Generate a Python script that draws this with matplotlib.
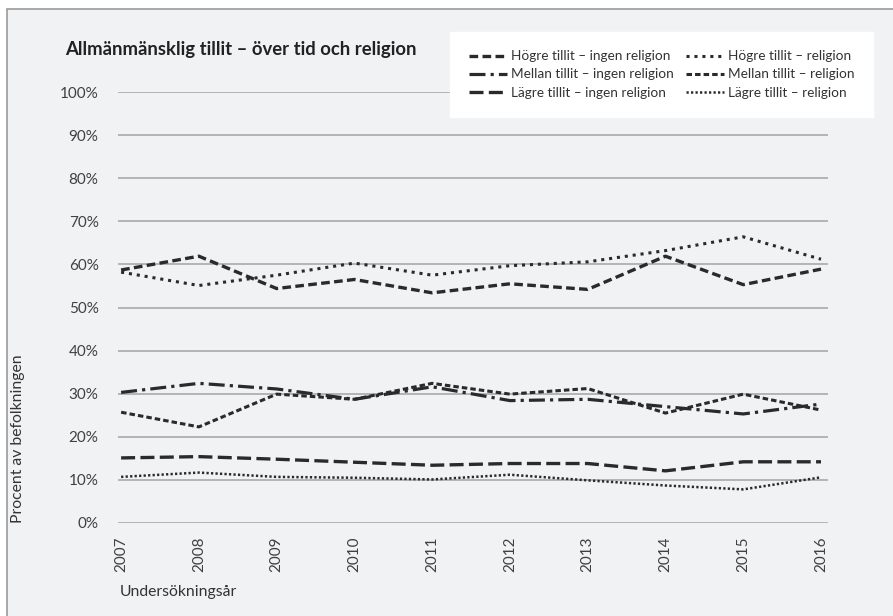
import matplotlib.pyplot as plt
from matplotlib.patches import Rectangle
from matplotlib.ticker import PercentFormatter

# Data (percent of population)
years = [2007, 2008, 2009, 2010, 2011, 2012, 2013, 2014, 2015, 2016]
hogre_ingen = [58.7, 61.9, 54.4, 56.5, 53.4, 55.5, 54.2, 61.9, 55.3, 58.9]
hogre_rel = [58.2, 55.1, 57.5, 60.3, 57.5, 59.7, 60.6, 63.2, 66.4, 61.2]
mellan_ingen = [30.3, 32.4, 31.1, 28.7, 31.6, 28.4, 28.7, 27.0, 25.3, 27.6]
mellan_rel = [25.7, 22.3, 29.9, 28.7, 32.4, 29.9, 31.2, 25.5, 29.9, 26.2]
lagre_ingen = [15.1, 15.4, 14.8, 14.1, 13.4, 13.8, 13.8, 12.1, 14.2, 14.2]
lagre_rel = [10.7, 11.7, 10.7, 10.5, 10.1, 11.2, 9.9, 8.7, 7.8, 10.6]

labels = [
    "Högre tillit – ingen religion",
    "Högre tillit – religion",
    "Mellan tillit – ingen religion",
    "Mellan tillit – religion",
    "Lägre tillit – ingen religion",
    "Lägre tillit – religion",
]

plt.rcParams["font.family"] = ["Lato", "DejaVu Sans"]

W, H = 893, 616
fig = plt.figure(figsize=(W / 100, H / 100), dpi=100)
fig.patch.set_facecolor("white")
bg = "#f1f2f4"
fig.patches.append(Rectangle((7 / W, -0.05), 1.1, 1 - 9 / H + 0.05,
                             transform=fig.transFigure, facecolor=bg,
                             edgecolor="#9a9a9a", linewidth=1.2, zorder=-5))

ax = fig.add_axes([118 / W, 1 - 523 / H, (828 - 118) / W, (523 - 92) / H])
ax.set_facecolor("none")
ax.set_zorder(1)

lc = "#2a2a2a"
series = [
    (hogre_ingen, dict(linestyle=(0, (2.6, 1.3)), linewidth=2.4)),
    (hogre_rel, dict(linestyle=(0, (1.0, 1.6)), linewidth=2.2)),
    (mellan_ingen, dict(linestyle=(0, (5.0, 1.6, 1.0, 1.6)), linewidth=2.3)),
    (mellan_rel, dict(linestyle=(0, (1.8, 1.0)), linewidth=2.2)),
    (lagre_ingen, dict(linestyle=(0, (4.2, 1.6)), linewidth=2.4)),
    (lagre_rel, dict(linestyle=(0, (0.9, 0.9)), linewidth=1.8)),
]
handles = []
for (vals, style), lab in zip(series, labels):
    h, = ax.plot(years, vals, color=lc, label=lab, **style)
    handles.append(h)

ax.set_ylim(0, 100)
ax.set_xlim(2007 - 0.04, 2016 + 0.09)
ax.set_yticks(range(0, 101, 10))
ax.yaxis.set_major_formatter(PercentFormatter(decimals=0))
ax.set_xticks(years)
ax.set_xticklabels([str(y) for y in years], rotation=90)
ax.grid(axis="y", color="#a9a9a9", linewidth=1.2)
ax.set_axisbelow(True)
for s in ax.spines.values():
    s.set_visible(False)
ax.tick_params(axis="both", length=0, labelsize=11, labelcolor="#404040")
ax.tick_params(axis="y", pad=14)
ax.tick_params(axis="x", pad=10)

fig.text(65 / W, 1 - 50 / H, "Allmänmänsklig tillit – över tid och religion",
         fontsize=13.3, fontweight="bold", color="#222222", va="center")
fig.text(18 / W, 1 - 523 / H, "Procent av befolkningen", rotation=90,
         fontsize=11.3, color="#333333", ha="center", va="bottom")
fig.text(120 / W, 1 - 592 / H, "Undersökningsår",
         fontsize=11.3, color="#333333", va="center")

order = [0, 2, 4, 1, 3, 5]
leg = fig.legend([handles[i] for i in order], [labels[i] for i in order],
                 ncol=2, loc="upper right", bbox_to_anchor=(873 / W, 1 - 32 / H),
                 borderaxespad=0, fontsize=9.8, frameon=True, fancybox=False,
                 framealpha=1, edgecolor="white", facecolor="white",
                 handlelength=2.8, handletextpad=0.3, columnspacing=0.9,
                 labelspacing=0.45, borderpad=1.35)
leg.set_zorder(5)
for t in leg.get_texts():
    t.set_color("#333333")

fig.savefig("out.png", dpi=100)
